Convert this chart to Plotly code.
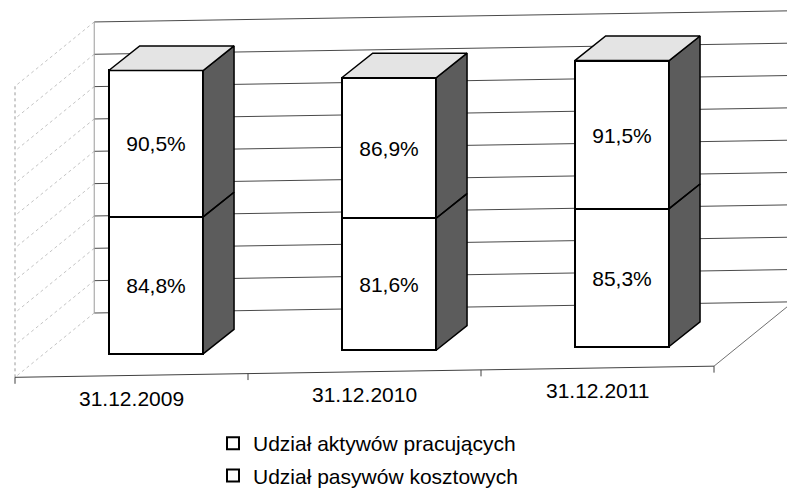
import plotly.graph_objects as go

# ---------------- data ----------------
categories = ["31.12.2009", "31.12.2010", "31.12.2011"]
aktywa_pracujace = [90.5, 86.9, 91.5]      # upper segment
pasywa_kosztowe = [84.8, 81.6, 85.3]       # lower segment
series_names = ["Udział aktywów pracujących", "Udział pasywów kosztowych"]
grid_ticks = [0, 20, 40, 60, 80, 100, 120, 140, 160, 180]

# ---------------- 3D look geometry (layout constants) ----------------
TILT = 2.3          # perspective tilt (value units per category unit)
DU, DV = 0.34, 39.0 # floor depth vector (category units, value units)
UF = -0.5           # front-left floor corner
UB = UF + DU        # back-left wall corner
U_END = 2.5         # front-right floor corner
F0 = 0.335          # bar front position as fraction of floor depth
FB = 0.39           # bar depth as fraction of floor depth
BW = 0.405          # bar width (category units)
BAR_SHIFT = 0.105   # horizontal shift of bar front from category centre

def P(u, v):
    return u, v + TILT * u

def fmt(v):
    return ("%.1f" % v).replace(".", ",") + "%"

n = len(categories)
xc = [i + BAR_SHIFT for i in range(n)]
front_v = -DV + F0 * DV
base_low = [front_v + TILT * u for u in xc]
base_up = [b + p for b, p in zip(base_low, pasywa_kosztowe)]
tops = [b + a for b, a in zip(base_up, aktywa_pracujace)]
bdu, bdv = FB * DU, FB * DV

FONT = "Liberation Sans, Arial, sans-serif"

fig = go.Figure()

# front faces (bars)
fig.add_trace(go.Bar(
    x=xc, y=pasywa_kosztowe, base=base_low, width=BW,
    name=series_names[1], legendgroup="b", legendrank=2,
    marker=dict(color="white", line=dict(color="black", width=2)),
    text=[fmt(v) for v in pasywa_kosztowe], textposition="inside",
    insidetextanchor="middle", textangle=0,
    textfont=dict(family=FONT, size=21, color="black"),
    hoverinfo="skip"))
fig.add_trace(go.Bar(
    x=xc, y=aktywa_pracujace, base=base_up, width=BW,
    name=series_names[0], legendgroup="a", legendrank=1,
    marker=dict(color="white", line=dict(color="black", width=2)),
    text=[fmt(v) for v in aktywa_pracujace], textposition="inside",
    insidetextanchor="middle", textangle=0,
    textfont=dict(family=FONT, size=21, color="black"),
    hoverinfo="skip"))

# side faces
sx, sy = [], []
for i in range(n):
    ur = xc[i] + BW / 2
    for y0, y1 in ((base_low[i], base_up[i]), (base_up[i], tops[i])):
        sx += [ur, ur + bdu, ur + bdu, ur, ur, None]
        sy += [y0, y0 + bdv, y1 + bdv, y1, y0, None]
fig.add_trace(go.Scatter(x=sx, y=sy, mode="lines", fill="toself",
                         fillcolor="#5c5c5c", line=dict(color="black", width=1.5),
                         showlegend=False, hoverinfo="skip"))
# top faces
tx, ty = [], []
for i in range(n):
    ul, ur = xc[i] - BW / 2, xc[i] + BW / 2
    t = tops[i]
    tx += [ul, ur, ur + bdu, ul + bdu, ul, None]
    ty += [t, t, t + bdv, t + bdv, t, None]
fig.add_trace(go.Scatter(x=tx, y=ty, mode="lines", fill="toself",
                         fillcolor="#e4e4e4", line=dict(color="black", width=1.5),
                         showlegend=False, hoverinfo="skip"))

# walls, floor, gridlines as shapes below the traces
shapes = []
def seg(a, b, color, width=1, dash="solid"):
    (x0, y0), (x1, y1) = P(*a), P(*b)
    shapes.append(dict(type="line", xref="x", yref="y", x0=x0, y0=y0, x1=x1, y1=y1,
                       layer="below", line=dict(color=color, width=width, dash=dash)))

for g in grid_ticks:
    seg((UB, g), (3.0, g), "#4a4a4a", 1)
    seg((UB, g), (UF, g - DV), "#c4c4c4", 1, "dot")
seg((UB, 0), (UB, grid_ticks[-1]), "#9a9a9a", 1)
seg((UF, -DV), (UF, grid_ticks[-1] - DV), "#9a9a9a", 1, "dot")
seg((UF, -DV), (U_END, -DV), "#404040", 1)
seg((U_END, -DV), (U_END + DU, 0), "#707070", 1)
for t in [UF, 0.5, 1.5, U_END]:
    seg((t, -DV), (t, -DV - 4), "#404040", 1)

# category labels
annotations = []
for i, c in enumerate(categories):
    x, y = P(i, -DV - 14)
    annotations.append(dict(x=x, y=y, xref="x", yref="y", text=c, showarrow=False,
                            font=dict(family=FONT, size=21, color="black")))

W, H = 787, 496
X0, Y0, KX, KY = 131.5, 312.4, 233.0, 1.617
fig.update_layout(
    width=W, height=H, margin=dict(l=0, r=0, t=0, b=0),
    paper_bgcolor="white", plot_bgcolor="white",
    barmode="overlay", bargap=0,
    shapes=shapes, annotations=annotations,
    xaxis=dict(range=[-X0 / KX, (W - X0) / KX], visible=False, fixedrange=True),
    yaxis=dict(range=[(Y0 - H) / KY, Y0 / KY], visible=False, fixedrange=True),
    showlegend=True,
    legend=dict(x=213 / W, y=0, xanchor="left", yanchor="bottom",
                traceorder="grouped", tracegroupgap=2,
                font=dict(family=FONT, size=21, color="black"),
                bgcolor="rgba(0,0,0,0)"),
)

fig.write_html("out.html", config={"displayModeBar": False},
               post_script="document.body.style.margin='0';document.body.style.overflow='hidden';")
